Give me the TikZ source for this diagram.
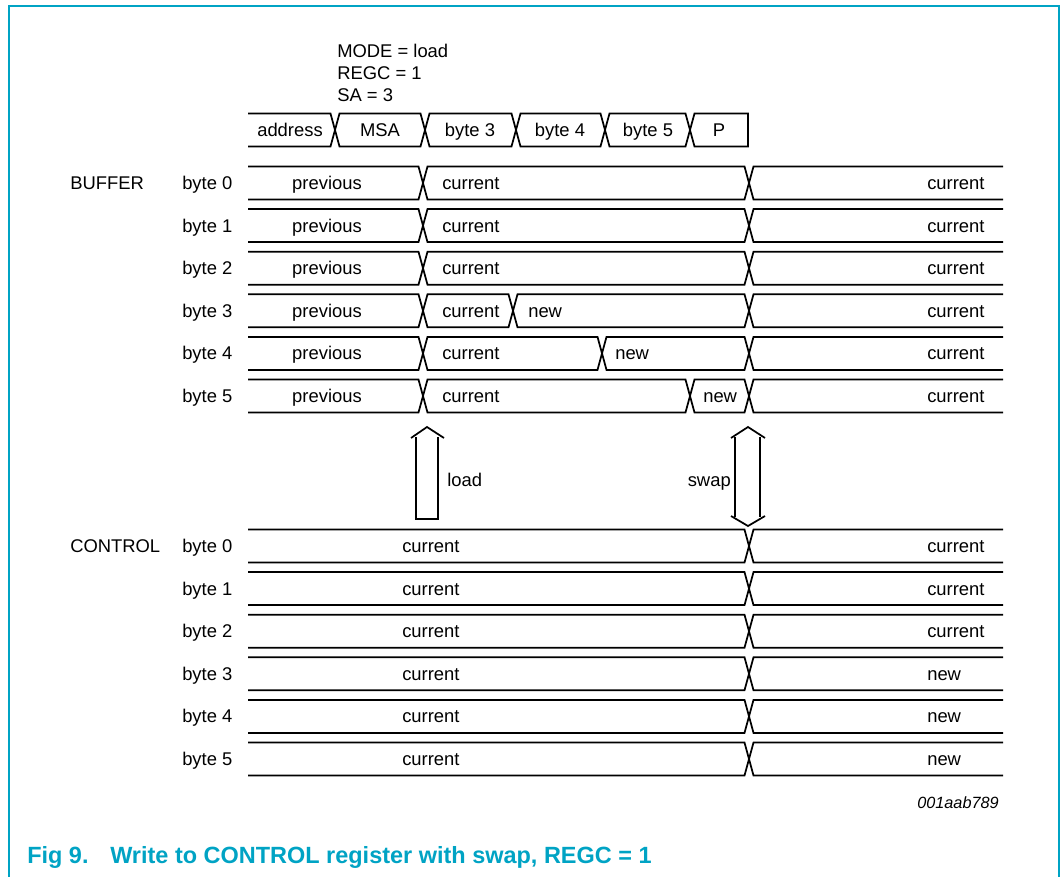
\documentclass[tikz,border=0pt]{standalone}
\usepackage{fontspec}
\setmainfont{Liberation Sans}
\definecolor{nxpcyan}{RGB}{0,163,196}
\newcommand\tdOpen[3]{\draw[sig] (#2,{#1-16.5}) -- ({#3-4.5},{#1-16.5}) -- (#3,#1) -- ({#3-4.5},{#1+16.5}) -- (#2,{#1+16.5});}
\newcommand\tdMid[3]{\draw[sig] (#2,#1) -- ({#2+4.5},{#1-16.5}) -- ({#3-4.5},{#1-16.5}) -- (#3,#1) -- ({#3-4.5},{#1+16.5}) -- ({#2+4.5},{#1+16.5}) -- cycle;}
\newcommand\tdEnd[3]{\draw[sig] (#3,{#1-16.5}) -- ({#2+4.5},{#1-16.5}) -- (#2,#1) -- ({#2+4.5},{#1+16.5}) -- (#3,{#1+16.5});}
\newcommand\tdClosed[3]{\draw[sig] (#3,{#1-16.5}) -- ({#2+4.5},{#1-16.5}) -- (#2,#1) -- ({#2+4.5},{#1+16.5}) -- (#3,{#1+16.5}) -- cycle;}
\begin{document}
\begin{tikzpicture}[x=0.75pt,y=-0.75pt,
  sig/.style={line width=1.3pt,line join=miter},
  lbl/.style={inner sep=0pt,yshift=-1.4pt,font=\fontsize{13.8}{16}\selectfont,text height=9.9pt,text depth=2.9pt},
  lblw/.style={lbl,anchor=west},
  bigarrow/.style={line width=1.3pt,line join=miter}]
\useasboundingbox (0,0) rectangle (1063,877);
% frame
\draw[nxpcyan,line width=1.6pt] (9,877) -- (9,6) -- (1059,6) -- (1059,877);
% mode text
\node[inner sep=0pt,anchor=west,align=left,font=\fontsize{13.8}{16.5}\selectfont] (mode) at (337,73) {MODE = load\\REGC = 1\\SA = 3};
% bus row
\tdOpen{130}{248}{335}
\tdMid{130}{335}{425}
\tdMid{130}{425}{516}
\tdMid{130}{516}{605}
\tdMid{130}{605}{690}
\tdClosed{130}{690}{748}
\node[lbl] (busaddr) at (290,130) {address};
\node[lbl] (busmsa) at (380,130) {MSA};
\node[lbl] (busb3) at (470,130) {byte 3};
\node[lbl] (busb4) at (560,130) {byte 4};
\node[lbl] (busb5) at (648,130) {byte 5};
\node[lbl] (busp) at (719,130) {P};
% buffer
\node[lblw] (buffer) at (70,183) {BUFFER};
\foreach \k in {0,...,5}{
  \pgfmathsetmacro\yy{183+42.6*\k}
  \node[lblw] (bl\k) at (182,\yy) {byte \k};
  \tdOpen{\yy}{248}{423}
  \node[lbl] (bp\k) at (327,\yy) {previous};
  \tdEnd{\yy}{749}{1003}
  \node[lblw] (br\k) at (927,\yy) {current};
  \node[lblw] (bc\k) at (442,\yy) {current};
}
\foreach \k in {0,1,2}{
  \pgfmathsetmacro\yy{183+42.6*\k}
  \tdMid{\yy}{423}{749}
}
\pgfmathsetmacro\yy{183+42.6*3}
\tdMid{\yy}{423}{513}
\tdMid{\yy}{513}{749}
\node[lblw] (bn3) at (528,\yy) {new};
\pgfmathsetmacro\yy{183+42.6*4}
\tdMid{\yy}{423}{602}
\tdMid{\yy}{602}{749}
\node[lblw] (bn4) at (615,\yy) {new};
\pgfmathsetmacro\yy{183+42.6*5}
\tdMid{\yy}{423}{690}
\tdMid{\yy}{690}{749}
\node[lblw] (bn5) at (703,\yy) {new};
% arrows
\draw[bigarrow] (411,438) -- (427,427) -- (444,438);
\draw[bigarrow] (416,437) -- (416,519) -- (438,519) -- (438,437);
\node[lblw] (load) at (447,480) {load};
\draw[bigarrow] (731,438) -- (748,427) -- (765,438);
\draw[bigarrow] (731,516) -- (748,526) -- (765,516);
\draw[bigarrow] (735,437) -- (735,517);
\draw[bigarrow] (760,437) -- (760,517);
\node[lbl,anchor=east] (swap) at (731,480) {swap};
% control
\node[lblw] (control) at (70,546) {CONTROL};
\foreach \k/\v in {0/current,1/current,2/current,3/new,4/new,5/new}{
  \pgfmathsetmacro\yy{546+42.6*\k}
  \node[lblw] (cl\k) at (182,\yy) {byte \k};
  \tdOpen{\yy}{248}{749}
  \tdEnd{\yy}{749}{1003}
  \node[lblw] (cc\k) at (402,\yy) {current};
  \node[lblw] (cr\k) at (927,\yy) {\v};
}
\node[inner sep=0pt,anchor=west,font=\fontsize{12.2}{14}\selectfont\itshape] (fignum) at (917,803) {001aab789};
% caption
\node[inner sep=0pt,anchor=west,text=nxpcyan,font=\fontsize{17.6}{20}\selectfont\bfseries] (capnum) at (27,857) {Fig 9.};
\node[inner sep=0pt,anchor=west,text=nxpcyan,font=\fontsize{17.6}{20}\selectfont\bfseries] (captext) at (110,857) {Write to CONTROL register with swap, REGC = 1};
\end{tikzpicture}
\end{document}
